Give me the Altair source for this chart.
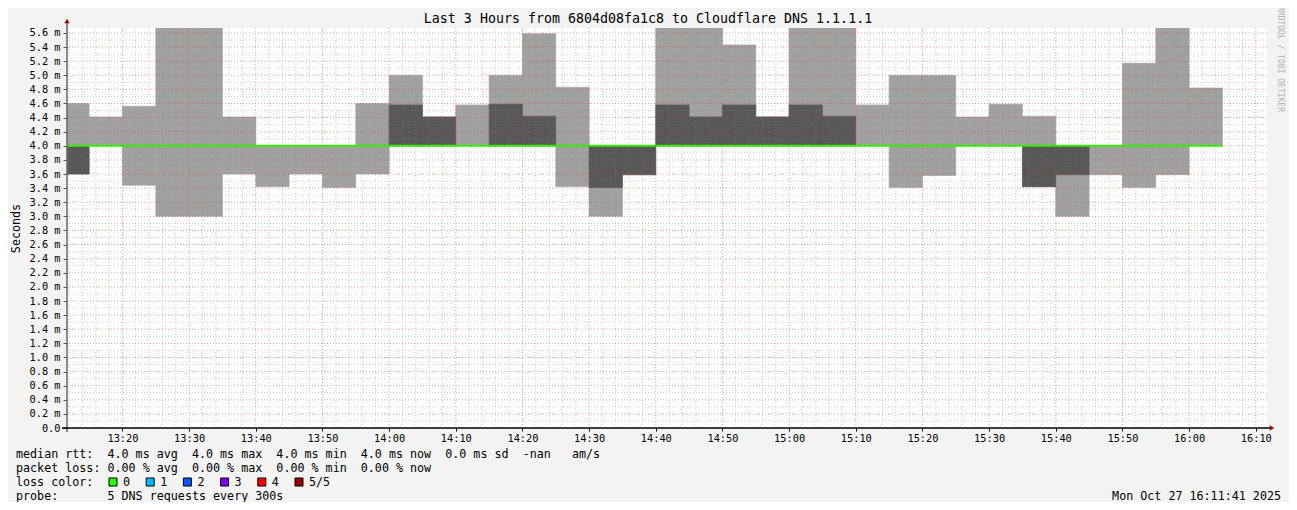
import altair as alt
import pandas as pd

# ---- data (SmokePing: 5 DNS pings per 5-minute step) ----
starts = ["13:10", "13:15", "13:20", "13:25", "13:30", "13:35", "13:40", "13:45", "13:50", "13:55",
          "14:00", "14:05", "14:10", "14:15", "14:20", "14:25", "14:30", "14:35", "14:40", "14:45",
          "14:50", "14:55", "15:00", "15:05", "15:10", "15:15", "15:20", "15:25", "15:30", "15:35",
          "15:40", "15:45", "15:50", "15:55", "16:00"]
ping_min = [3.60, 4.00, 3.44, 3.00, 3.00, 3.60, 3.42, 3.60, 3.41, 3.60,
            4.00, 4.00, 4.00, 4.00, 4.00, 3.42, 3.00, 3.59, 4.00, 4.00,
            4.00, 4.00, 4.00, 4.00, 4.00, 3.41, 3.58, 4.00, 4.00, 3.42,
            3.00, 3.59, 3.41, 3.59, 4.00]
ping_2 = [3.60, 4.00, 4.00, 4.00, 4.00, 4.00, 4.00, 4.00, 4.00, 4.00,
          4.00, 4.00, 4.00, 4.00, 4.00, 4.00, 3.41, 3.59, 4.00, 4.00,
          4.00, 4.00, 4.00, 4.00, 4.00, 4.00, 4.00, 4.00, 4.00, 3.42,
          3.59, 4.00, 4.00, 4.00, 4.00]
ping_median = [4.00, 4.00, 4.00, 4.00, 4.00, 4.00, 4.00, 4.00, 4.00, 4.00,
               4.00, 4.00, 4.00, 4.00, 4.00, 4.00, 4.00, 4.00, 4.00, 4.00,
               4.00, 4.00, 4.00, 4.00, 4.00, 4.00, 4.00, 4.00, 4.00, 4.00,
               4.00, 4.00, 4.00, 4.00, 4.00]
ping_4 = [4.00, 4.00, 4.00, 4.00, 4.00, 4.00, 4.00, 4.00, 4.00, 4.00,
          4.58, 4.41, 4.00, 4.59, 4.42, 4.00, 4.00, 4.00, 4.58, 4.41,
          4.58, 4.41, 4.58, 4.42, 4.00, 4.00, 4.00, 4.00, 4.00, 4.00,
          4.00, 4.00, 4.00, 4.00, 4.00]
ping_max = [4.60, 4.41, 4.56, 6.00, 6.00, 4.41, 4.00, 4.00, 4.00, 4.60,
            5.00, 4.41, 4.58, 5.00, 5.59, 4.83, 4.00, 4.00, 6.00, 6.00,
            5.43, 4.41, 6.00, 6.00, 4.58, 5.00, 5.00, 4.41, 4.59, 4.42,
            4.00, 4.00, 5.17, 6.00, 4.82]
step_minutes = 5

y_tick_values = [0.0, 0.2, 0.4, 0.6, 0.8, 1.0, 1.2, 1.4, 1.6, 1.8, 2.0, 2.2, 2.4, 2.6, 2.8,
                 3.0, 3.2, 3.4, 3.6, 3.8, 4.0, 4.2, 4.4, 4.6, 4.8, 5.0, 5.2, 5.4, 5.6]
x_tick_labels = ["13:20", "13:30", "13:40", "13:50", "14:00", "14:10", "14:20", "14:30", "14:40",
                 "14:50", "15:00", "15:10", "15:20", "15:30", "15:40", "15:50", "16:00", "16:10"]

title_text = "Last 3 Hours from 6804d08fa1c8 to Cloudflare DNS 1.1.1.1"
legend_lines = [
    "median rtt:  4.0 ms avg  4.0 ms max  4.0 ms min  4.0 ms now  0.0 ms sd  -nan   am/s",
    "packet loss: 0.00 % avg  0.00 % max  0.00 % min  0.00 % now",
    "loss color:",
    "probe:       5 DNS requests every 300s",
]
loss_labels = ["0", "1", "2", "3", "4", "5/5"]
loss_colors = ["#26ff00", "#00b8ff", "#0059ff", "#7e00ff", "#ff0000", "#a00000"]
date_text = "Mon Oct 27 16:11:41 2025"
watermark = "RRDTOOL / TOBI OETIKER"


def to_min(s):
    h, m = s.split(":")
    return int(h) * 60 + int(m)


df = pd.DataFrame({
    "t0": [to_min(s) for s in starts],
    "p1": ping_min, "p2": ping_2, "p3": ping_median, "p4": ping_4, "p5": ping_max,
})
df["t1"] = df["t0"] + step_minutes

t_end = 16 * 60 + 11 + 41 / 60
t_start = t_end - 180
xs = alt.Scale(domain=[t_start, t_end], nice=False, zero=False)
ys = alt.Scale(domain=[0, 5.67], nice=False, zero=False)

MONO = "DejaVu Sans Mono"
x_vals = [to_min(s) for s in x_tick_labels]

xaxis = alt.Axis(values=x_vals, grid=False, domain=False, ticks=True, tickSize=3,
                 tickColor="#000000", labelPadding=2, labelFont=MONO, labelFontSize=10.3,
                 labelColor="#000000", labelFlush=False, title=None,
                 labelExpr="floor(datum.value/60) + ':' + (datum.value % 60 < 10 ? '0' : '') + (datum.value % 60)")
yaxis = alt.Axis(values=y_tick_values, grid=False, domain=False, ticks=True, tickSize=4,
                 tickColor="#555555", labelPadding=3, labelFont=MONO, labelFontSize=10.3,
                 labelColor="#000000", labelFlush=False,
                 labelExpr="datum.value == 0 ? '0.0' : format(datum.value, '.1f') + ' m'",
                 title="Seconds", titleFont=MONO, titleFontSize=11.7, titleFontWeight="normal",
                 titleColor="#000000", titleAngle=-90, titleX=-52, titleY=200,
                 titleAlign="center", titleBaseline="middle")


def X(field):
    return alt.X(field, scale=xs, axis=xaxis)


def Y(field):
    return alt.Y(field, scale=ys, axis=yaxis)


LIGHT, DARK = "#a1a1a1", "#585858"
base = alt.Chart(df)
light = base.mark_rect(color=LIGHT, stroke=LIGHT, strokeWidth=0.6, clip=True).encode(
    x=X("t0:Q"), x2="t1", y=Y("p1:Q"), y2="p5")
dark = base.mark_rect(color=DARK, stroke=DARK, strokeWidth=0.6, strokeOpacity=1, clip=True).encode(
    x=X("t0:Q"), x2="t1", y=Y("p2:Q"), y2="p4",
    opacity=alt.condition("datum.p4 > datum.p2", alt.value(1), alt.value(0)))
median = base.mark_rule(color="#26ff00", strokeWidth=2, clip=True).encode(
    x=X("t0:Q"), x2="t1", y=Y("p3:Q"))

# grid lines (drawn over the smoke, as rrdtool does)
y_minor = [round(0.1 + 0.2 * i, 1) for i in range(28)]
y_major = [v for v in y_tick_values if v > 0]
x_minor = [m for m in range(792, 971, 2) if m % 10 != 0]
x_major = [m for m in range(800, 971, 10)]

GRID_C, GRID_O = "#8c8c8c", 0.45
MGRID_C, MGRID_O = "#e03030", 0.48
g_y_minor = alt.Chart(pd.DataFrame({"t0": y_minor})).mark_rule(
    color=GRID_C, opacity=GRID_O, strokeDash=[1, 2], strokeWidth=1).encode(y=Y("t0:Q"))
g_x_minor = alt.Chart(pd.DataFrame({"t0": x_minor})).mark_rule(
    color=GRID_C, opacity=GRID_O, strokeDash=[1, 2], strokeWidth=1).encode(x=X("t0:Q"))
g_y_major = alt.Chart(pd.DataFrame({"t0": y_major})).mark_rule(
    color=MGRID_C, opacity=MGRID_O, strokeDash=[1, 2], strokeWidth=1).encode(y=Y("t0:Q"))
g_x_major = alt.Chart(pd.DataFrame({"t0": x_major})).mark_rule(
    color=MGRID_C, opacity=MGRID_O, strokeDash=[1, 2], strokeWidth=1).encode(x=X("t0:Q"))

one = pd.DataFrame({"a": [0]})
ARROW = "#8b1010"
y_axis_line = alt.Chart(one).mark_rule(color="#666666", strokeWidth=1.5).encode(
    x=alt.value(0), y=alt.value(-6), y2=alt.value(404))
x_axis_line = alt.Chart(one).mark_rule(color="#000000", strokeWidth=1.5).encode(
    x=alt.value(-5), x2=alt.value(1203), y=alt.value(400))
y_arrow = alt.Chart(one).mark_point(shape="triangle-up", filled=True, size=28, color=ARROW, opacity=1).encode(
    x=alt.value(0), y=alt.value(-7))
x_arrow = alt.Chart(one).mark_point(shape="triangle-right", filled=True, size=28, color=ARROW, opacity=1).encode(
    x=alt.value(1205), y=alt.value(400))

NBSP = "\u00a0"


def txt(text, x, y, size=11.7, align="left", color="#000000", angle=0, font=MONO):
    kw = dict(text=text.replace(" ", NBSP), font=font, fontSize=size, align=align,
              baseline="middle", color=color)
    if angle:
        kw["angle"] = angle
    return alt.Chart(one).mark_text(**kw).encode(x=alt.value(x), y=alt.value(y))


texts = [txt(title_text, 581, -9, size=13.3, align="center")]
line_y = [426, 439.5, 454, 468]
for s, yy in zip(legend_lines, line_y):
    texts.append(txt(s, -51, yy))
texts.append(txt(date_text, 1214, 468, align="right"))
texts.append(txt(watermark, 1213, 31, size=8.0, align="center", color="#b0b0b0", angle=90))

swatches = []
for i, (lab, col) in enumerate(zip(loss_labels, loss_colors)):
    x0 = 42 + 37.2 * i
    swatches.append(alt.Chart(one).mark_rect(color=col, stroke="#000000", strokeWidth=1).encode(
        x=alt.value(x0), x2=alt.value(x0 + 8), y=alt.value(450), y2=alt.value(458)))
    texts.append(txt(lab, x0 + 14, 454))

chart = alt.layer(
    light, dark, median,
    g_y_minor, g_x_minor, g_y_major, g_x_major,
    y_axis_line, x_axis_line, y_arrow, x_arrow,
    *swatches, *texts,
).properties(
    width=1200, height=400,
    padding={"left": 59, "top": 20, "right": 22, "bottom": 74},
    autosize=alt.AutoSizeParams(type="none"),
    background="#f3f3f3",
).configure_view(fill="#ffffff", stroke=None)

chart.save("out.html", embed_options={"renderer": "svg", "actions": False})
